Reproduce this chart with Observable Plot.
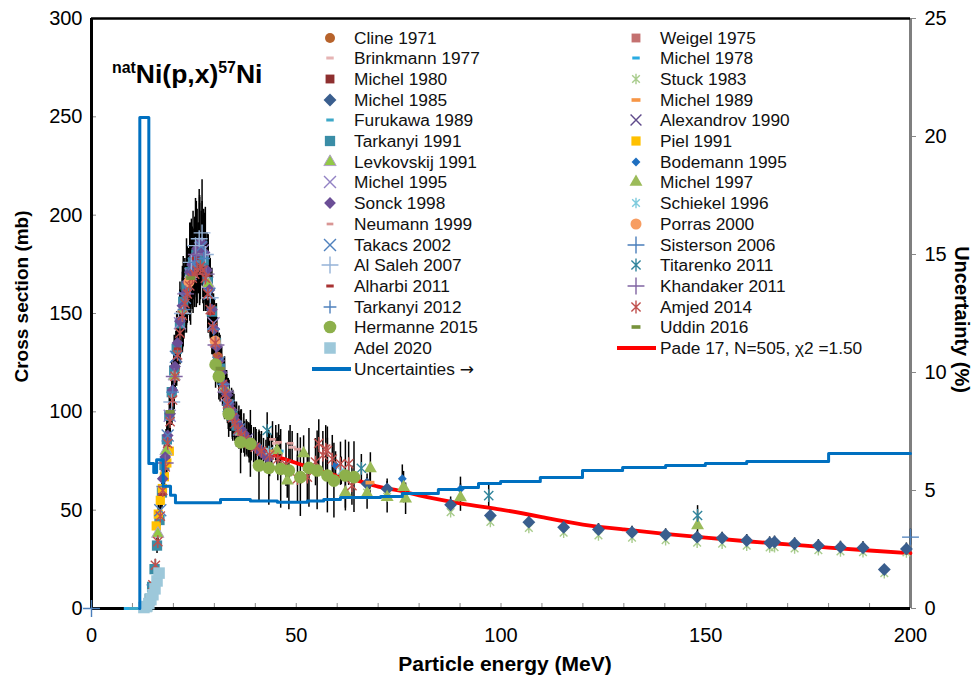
<!DOCTYPE html>
<html><head><meta charset="utf-8">
<script src="https://cdn.jsdelivr.net/npm/d3@7"></script>
<script src="https://cdn.jsdelivr.net/npm/@observablehq/plot@0.6"></script>
<style>
body{margin:0;background:#fff;font-family:"Liberation Sans",Arial,sans-serif;}
#wrap{position:relative;width:973px;height:678px;}
.item{position:absolute;height:20px;line-height:20px;font-size:17.3px;color:#111;white-space:nowrap;}
.item svg{position:absolute;top:0;}
.arrow{font-family:"DejaVu Sans",sans-serif;font-size:17px;}
#title{position:absolute;left:112px;top:61px;font-weight:bold;font-size:26.5px;line-height:26px;color:#000;white-space:nowrap;}
#title .sup{font-size:0.6em;position:relative;top:-0.6em;}
</style></head>
<body><div id="wrap"></div>
<script>
// ---- data: [energy MeV, cross section mb, error mb] ----
const cline1971 = [[20.4,122,12],[26.2,178,18],[30.8,128,13]];
const weigel1975 = [[21.8,146,15],[27.4,176,18],[34.0,100,10]];
const brinkmann1977 = [[23.4,164,16],[45.0,84,9],[49.0,82,8]];
const michel1978 = [[8.8,0,0],[23.6,166,17],[39.0,84,8],[46.0,80,8]];
const michel1980 = [[23.2,160,16],[28.0,168,17],[36.0,90,9]];
const stuck1983 = [[67.3,59,0],[72.2,56.8,0],[87.7,49,0],[97.4,44,0],[106.8,41,0],[115.3,38.5,0],[123.8,37.2,0],[132,36,0],[140.2,34.8,0],[147.9,33.5,0],[154,33,0],[160,32,0],[165.6,31,0],[166.8,31.2,0],[171.7,30.5,0],[177.5,29.6,0],[182.9,29,0],[188.4,28.6,0],[193.6,18,0],[199,28.5,0]];
const michel1985 = [[67.3,63.4,5],[72.2,60.8,5],[87.7,52.7,4],[97.4,47.3,4],[106.8,43.9,3],[115.3,41.3,3],[123.8,40.2,3],[132,38.8,3],[140.2,37.5,3],[147.9,36.3,3],[154,35.8,3],[160,34.6,3],[165.6,33.4,3],[166.8,33.8,3],[171.7,32.9,3],[177.5,32,3],[182.9,31.2,3],[188.4,30.9,3],[193.6,19.8,0],[199,30.3,3]];
const michel1989 = [[26.0,178,18],[44.0,80,8],[68.0,64,6]];
const furukawa1989 = [[10.0,0,0],[11.0,0,0],[21.2,134,13],[27.8,172,17]];
const alexandrov1990 = [[20.8,128,13],[24.6,172,17],[28.4,166,17],[33.2,106,11]];
const tarkanyi1991 = [[13.6,1,0],[14.2,5,1],[14.8,11,1.5],[15.4,20,2.5],[16.0,32,4],[16.6,45,6],[17.2,59,8],[17.8,73,10],[18.4,86,12],[19.0,98,14],[19.6,110,16],[20.2,121,18],[20.8,132,19],[21.6,145,21],[22.4,156,23],[23.2,164,24],[24.0,171,25],[24.8,176,26],[25.6,180,27],[26.4,182,27],[27.4,177,26],[28.4,166,24],[29.4,151,22],[30.4,135,20],[31.4,122,17],[32.4,112,15],[33.4,104,13],[34.4,98,12],[35.4,93,11]];
const piel1991 = [[15.8,42,4],[16.3,48,5],[16.8,55,5],[17.3,61,6],[17.8,67,6],[18.4,74,7],[19.0,80,8]];
const levkovskij1991 = [[16.2,38,5],[18.2,80,11],[20.2,118,17],[22.2,152,22],[24.2,170,26],[26.4,182,28],[28.5,165,25],[30.5,135,20],[32.5,112,16],[34.5,98,13],[36.5,90,11]];
const bodemann1995 = [[41.0,82,8],[59.6,72.7,7],[75.9,66,7],[90.1,60.8,6]];
const michel1995 = [[19.1,98,10],[21.6,145,15],[24.2,170,17],[27.2,182,18],[29.8,145,15],[33.0,108,11],[38.0,86,9]];
const michel1997 = [[45.3,80.3,9],[47.8,65,9],[51.8,78.8,9],[62,59,8],[67.3,58.5,8],[68.1,71.2,8],[72.2,56.6,8],[76.2,61.7,8],[76.7,55.8,8],[90.1,56.4,7],[148,42.2,4]];
const sonck1998 = [[17.4,66,8],[18.0,77,9],[18.6,88,10],[19.2,99,11],[19.8,111,12],[20.4,123,14],[21.0,135,15],[21.6,146,16],[22.2,154,17],[22.8,160,18],[23.4,166,18],[24.0,171,19],[24.6,175,19],[25.2,179,20],[25.8,183,20],[26.4,186,20],[27.0,186,21],[27.6,181,20],[28.2,172,19],[28.8,162,18],[29.4,152,17],[30.0,142,16],[30.6,133,15],[31.2,126,14],[31.8,120,13],[32.4,114,13],[33.0,109,12],[33.6,104,12],[34.2,101,11],[34.8,98,11],[35.4,95,10],[36.0,93,10],[36.6,91,10],[37.2,89,10],[37.8,87,9],[38.4,85.5,9],[39.0,84,9],[39.6,83,9],[40.2,82,9],[40.8,80.5,9],[41.4,79.5,9],[42.0,78.5,8],[42.6,77.5,8],[43.2,76.5,8]];
const schiekel1996 = [[43.3,80,8],[61.0,70,7]];
const neumann1999 = [[44.2,86,9],[45.7,84.5,9],[48.5,84,9],[50.3,81,8]];
const porras2000 = [[23.8,166,17],[30.2,136,14]];
const takacs2002 = [[16.8,50,5],[18.6,88,9],[20.6,128,13],[22.8,158,16],[25.0,175,18],[26.8,184,18],[28.8,160,16],[31.0,125,12],[33.5,103,10],[36.0,91,9]];
const sisterson2006 = [[0,0,0],[200,36.3,4]];
const alSaleh2007 = [[19.6,105,12],[22.2,150,18],[24.4,176,22],[25.4,184.5,24],[26.3,188,25],[27.0,191,27],[27.8,180,24],[29.0,158,20]];
const titarenko2011 = [[42.9,90.5,9],[65.9,71.3,7],[97.0,57.4,6],[148.0,47.3,5]];
const alharbi2011 = [[17.2,58,6],[21.0,132,13],[25.4,178,18],[29.2,150,15]];
const khandaker2011 = [[18.0,74,8],[20.2,118,12],[23.0,160,16],[25.6,180,18],[28.0,170,17],[30.4,134,14],[32.8,110,11]];
const tarkanyi2012 = [[15.0,12,2],[17.4,62,7],[19.8,110,11],[22.6,152,15],[25.2,176,18],[27.4,178,18],[29.8,142,14],[32.2,114,11],[35.0,95,10]];
const amjed2014 = [[14.3,4,1],[15.0,12,2],[15.6,22,3],[16.2,34,4],[16.8,47,5],[17.4,60,6],[18.0,72,7],[18.6,84,8],[19.2,95,9],[19.8,106,10],[20.4,118,11],[21.0,129,12],[21.6,140,13],[22.2,149,14],[22.8,155,15],[23.4,160,15],[24.0,164,16],[24.6,168,16],[25.2,170,17],[25.8,172,17],[26.6,174,17],[27.2,172,17],[27.8,168,17],[28.4,160,16],[29.0,152,15],[29.6,143,14],[30.2,135,13],[30.8,127,13],[31.4,120,12],[32.0,114,11],[32.6,109,11],[33.2,104,10],[33.8,100,10],[34.4,97,10],[35.0,94,9],[35.8,91,9],[36.6,88,9],[37.4,86,9],[38.5,84,10],[40,82,10],[41.5,80,10],[43.5,78,11],[45.5,76,11],[47.5,73,11],[50.3,66,12],[52.7,66.8,12],[54.7,74.4,12],[55.5,84,12],[56.5,78,12],[57.2,81,12],[57.6,80.3,12],[58.8,76,12],[60.8,73.6,11],[62.8,73.6,11],[63.6,62.5,10]];
const hermanne2015 = [[30.3,124,12],[31.1,118,12],[33.5,99,12],[36.4,84.5,16],[38.8,83.7,17],[40.9,72.7,18],[43.3,71.5,19],[46.2,71,20],[48.2,70.2,20],[51,66.8,20],[53.1,71.5,20],[55.1,70.2,20],[57.6,67.6,19],[59.2,65,19],[62,67.6,18],[64.1,66.8,18]];
const uddin2016 = [[19.2,100,10],[24.2,168,17],[31.4,122,12]];
const adel2020 = [[12.8,0.5,0],[13.4,1,0],[14.0,2.5,0],[14.5,4.5,0],[15.0,7,0],[15.5,10,0],[16.0,14,0],[16.5,18,0]];
// Pade fit [energy, mb]
const pade17 = [[40,84],[42,81],[45,77.5],[50,74],[55,70.5],[60,67.5],[65,65],[70,62],[75,60],[80,57.5],[90,53.5],[100,50.3],[110,46.5],[120,42.7],[130,40.2],[140,38],[150,36],[160,34.2],[170,32.6],[180,31],[190,29.5],[200,28.1]];
// Uncertainty (%) step line [energy, %]
const uncertainty = [[11.7,0],[11.8,20.8],[14.0,6.14],[15.2,5.76],[15.9,6.3],[17.5,5.18],[19.3,4.8],[20.5,4.48],[31.5,4.62],[38.8,4.55],[45.4,4.5],[52.7,4.55],[56.7,4.62],[60.8,4.7],[70.6,4.75],[75.9,4.87],[84.7,5.04],[90.1,5.13],[94.5,5.3],[99.9,5.38],[109.6,5.55],[119.9,5.85],[129.7,5.97],[140.2,6.06],[149.9,6.14],[160,6.23],[180,6.57],[200,6.57]];
// axis ticks
const xLabelTicks = [0,50,100,150,200];
const xMinorTicks = [0,10,20,30,40,50,60,70,80,90,100,110,120,130,140,150,160,170,180,190,200];
const yTicks = [0,50,100,150,200,250,300];
const uTicks = [0,5,10,15,20,25];

// ---- symbols ----
const symDash = {draw(ctx,size){const s=Math.sqrt(size);const w=s*0.42,h=s*0.17;ctx.moveTo(-w,-h);ctx.lineTo(w,-h);ctx.lineTo(w,h);ctx.lineTo(-w,h);ctx.closePath();}};
const symStar = {draw(ctx,size){const r=Math.sqrt(size)*0.6;const t=r*0.72;ctx.moveTo(0,-r);ctx.lineTo(0,r);ctx.moveTo(-t,-t);ctx.lineTo(t,t);ctx.moveTo(-t,t);ctx.lineTo(t,-t);}};
const symMap = {circle:d3.symbolCircle, square:d3.symbolSquare, diamond:d3.symbolDiamond2, triangle:d3.symbolTriangle, times:d3.symbolTimes, plus:d3.symbolPlus, star:symStar, dash:symDash};
const plotSym = {circle:"circle", square:"square", diamond:"diamond2", triangle:"triangle", times:"times", plus:"plus", star:symStar, dash:symDash};
const strokeSyms = new Set(["times","plus","star"]);

const series = [
 {name:"Cline 1971", data:cline1971, sym:"circle", color:"#B7632B", r:5},
 {name:"Weigel 1975", data:weigel1975, sym:"square", color:"#C47170", r:5},
 {name:"Brinkmann 1977", data:brinkmann1977, sym:"dash", color:"#E6B4B4", r:5},
 {name:"Michel 1978", data:michel1978, sym:"dash", color:"#29ABE2", r:5},
 {name:"Michel 1980", data:michel1980, sym:"square", color:"#8E2F2F", r:5},
 {name:"Stuck 1983", data:stuck1983, sym:"star", color:"#A8CC8C", r:5},
 {name:"Michel 1985", data:michel1985, sym:"diamond", color:"#3A5E8E", r:5.8},
 {name:"Michel 1989", data:michel1989, sym:"dash", color:"#F79646", r:6},
 {name:"Furukawa 1989", data:furukawa1989, sym:"dash", color:"#3DA8C8", r:5},
 {name:"Alexandrov 1990", data:alexandrov1990, sym:"times", color:"#5F4A8B", r:5},
 {name:"Tarkanyi 1991", data:tarkanyi1991, sym:"square", color:"#3A8DA6", r:5.8},
 {name:"Piel 1991", data:piel1991, sym:"square", color:"#FFC000", r:5.2},
 {name:"Levkovskij 1991", data:levkovskij1991, sym:"triangle", color:"#92C846", stroke:"#B3A2C7", r:4.6},
 {name:"Bodemann 1995", data:bodemann1995, sym:"diamond", color:"#1F6FC0", r:4},
 {name:"Michel 1995", data:michel1995, sym:"times", color:"#9282C4", r:5.5},
 {name:"Michel 1997", data:michel1997, sym:"triangle", color:"#9BBB59", r:4.8},
 {name:"Sonck 1998", data:sonck1998, sym:"diamond", color:"#6B4E96", r:5.3},
 {name:"Schiekel 1996", data:schiekel1996, sym:"star", color:"#7ECBDD", r:5},
 {name:"Neumann 1999", data:neumann1999, sym:"dash", color:"#D99694", r:4.5},
 {name:"Porras 2000", data:porras2000, sym:"circle", color:"#F79D62", r:5.5},
 {name:"Takacs 2002", data:takacs2002, sym:"times", color:"#4F81BD", r:5.5},
 {name:"Sisterson 2006", data:sisterson2006, sym:"plus", color:"#4A7EBB", r:5.5},
 {name:"Al Saleh 2007", data:alSaleh2007, sym:"plus", color:"#95B3D7", r:5.5},
 {name:"Titarenko 2011", data:titarenko2011, sym:"star", color:"#31859C", r:6},
 {name:"Alharbi 2011", data:alharbi2011, sym:"dash", color:"#A83232", r:5},
 {name:"Khandaker 2011", data:khandaker2011, sym:"plus", color:"#8064A2", r:5.5},
 {name:"Tarkanyi 2012", data:tarkanyi2012, sym:"plus", color:"#4F81BD", r:4.2},
 {name:"Amjed 2014", data:amjed2014, sym:"star", color:"#C0504D", r:6},
 {name:"Hermanne 2015", data:hermanne2015, sym:"circle", color:"#8DB04B", r:6.3},
 {name:"Uddin 2016", data:uddin2016, sym:"dash", color:"#77933C", r:6},
 {name:"Adel 2020", data:adel2020, sym:"square", color:"#9DC8DA", r:6.5}
];

const toRows = s => s.data.map(([E,y,err]) => ({E, y, err, s: s.name}));
const allPts = series.flatMap(toRows);

const dotMarks = series.map(s => {
  const isStroke = strokeSyms.has(s.sym);
  return Plot.dot(toRows(s), {
    x: "E", y: "y", r: s.r,
    symbol: plotSym[s.sym],
    fill: isStroke ? "none" : s.color,
    stroke: isStroke ? s.color : (s.stroke || "none"),
    strokeWidth: isStroke ? 1.4 : 1
  });
});

const plot = Plot.plot({
  width: 973, height: 678,
  marginLeft: 91, marginRight: 63, marginTop: 18, marginBottom: 70,
  x: {domain: [0, 200]},
  y: {domain: [0, 300]},
  style: {fontFamily: '"Liberation Sans", Arial, sans-serif', fontSize: "20px", color: "#000", overflow: "visible", background: "#fff"},
  marks: [
    Plot.axisY({ticks: yTicks, tickSize: 0, tickPadding: 9, label: null, fontSize: 20}),
    Plot.axisY({ticks: yTicks, tickSize: 5, text: null, label: null, dx: 5, stroke: "#888"}),
    Plot.axisX({ticks: xLabelTicks, tickSize: 0, tickPadding: 19, label: null, fontSize: 20}),
    Plot.axisX({ticks: xMinorTicks, tickSize: 5, text: null, label: null, dy: -5, stroke: "#888"}),
    Plot.axisY({anchor: "right", ticks: uTicks.map(u => u * 12), tickFormat: d => String(Math.round(d / 12)), tickSize: 5, tickPadding: 9, label: null, stroke: "#888", fontSize: 20}),
    Plot.text(["Cross section (mb)"], {frameAnchor: "left", dx: -70, dy: -17, rotate: -90, textAnchor: "middle", lineAnchor: "middle", fontWeight: "bold", fontSize: 19}),
    Plot.text(["Uncertainty (%)"], {frameAnchor: "right", dx: 51, dy: 6, rotate: 90, textAnchor: "middle", lineAnchor: "middle", fontWeight: "bold", fontSize: 20}),
    Plot.text(["Particle energy (MeV)"], {frameAnchor: "bottom", dy: 62, dx: 4, textAnchor: "middle", fontWeight: "bold", fontSize: 21}),
    Plot.ruleX([200], {stroke: "#7f7f7f", strokeWidth: 3}),
    Plot.ruleY([300], {stroke: "#000", strokeWidth: 2.5}),
    Plot.ruleY([0], {stroke: "#000", strokeWidth: 3}),
    Plot.ruleX([0], {stroke: "#000", strokeWidth: 3}),
    Plot.ruleX(allPts.filter(d => d.err > 0), {x: "E", y1: d => Math.max(0, d.y - d.err), y2: d => d.y + d.err, stroke: "#000", strokeWidth: 1.5}),
    Plot.line(pade17, {x: d => d[0], y: d => d[1], curve: "natural", stroke: "#FF0000", strokeWidth: 3.8}),
    ...dotMarks,
    Plot.line(uncertainty, {x: d => d[0], y: d => d[1] * 12, curve: "step-after", stroke: "#0070C0", strokeWidth: 3})
  ]
});

const wrap = document.getElementById("wrap");
wrap.appendChild(plot);

// title
const title = document.createElement("div");
title.id = "title";
title.innerHTML = '<span class="sup">nat</span>Ni(p,x)<span class="sup">57</span>Ni';
wrap.appendChild(title);

// legend
function symSvg(s) {
  const size = Math.PI * s.r * s.r;
  const path = d3.symbol(symMap[s.sym], size)();
  const isStroke = strokeSyms.has(s.sym);
  const fill = isStroke ? "none" : s.color;
  const stroke = isStroke ? s.color : (s.stroke || "none");
  return `<svg width="20" height="20" style="left:-34px"><path transform="translate(10,10)" d="${path}" fill="${fill}" stroke="${stroke}" stroke-width="${isStroke ? 1.4 : 1}"/></svg>`;
}
const rowY = i => 37.5 + 20.7 * i;
series.forEach((s, i) => {
  const col = i % 2, row = Math.floor(i / 2);
  const d = document.createElement("div");
  d.className = "item";
  d.style.left = (col === 0 ? 354 : 660) + "px";
  d.style.top = (rowY(row) - 10) + "px";
  d.innerHTML = symSvg(s) + s.name;
  wrap.appendChild(d);
});
const u = document.createElement("div");
u.className = "item";
u.style.left = "354px"; u.style.top = (rowY(16) - 10) + "px";
u.innerHTML = '<svg width="42" height="20" style="left:-43px"><line x1="1" x2="40" y1="10" y2="10" stroke="#0070C0" stroke-width="4"/></svg>Uncertainties <span class="arrow">→</span>';
wrap.appendChild(u);
const p = document.createElement("div");
p.className = "item";
p.style.left = "660px"; p.style.top = (rowY(15) - 10) + "px";
p.innerHTML = '<svg width="42" height="20" style="left:-44px"><line x1="1" x2="40" y1="10" y2="10" stroke="#FF0000" stroke-width="4"/></svg>Pade 17, N=505, χ2 =1.50';
wrap.appendChild(p);
</script>
</body></html>
